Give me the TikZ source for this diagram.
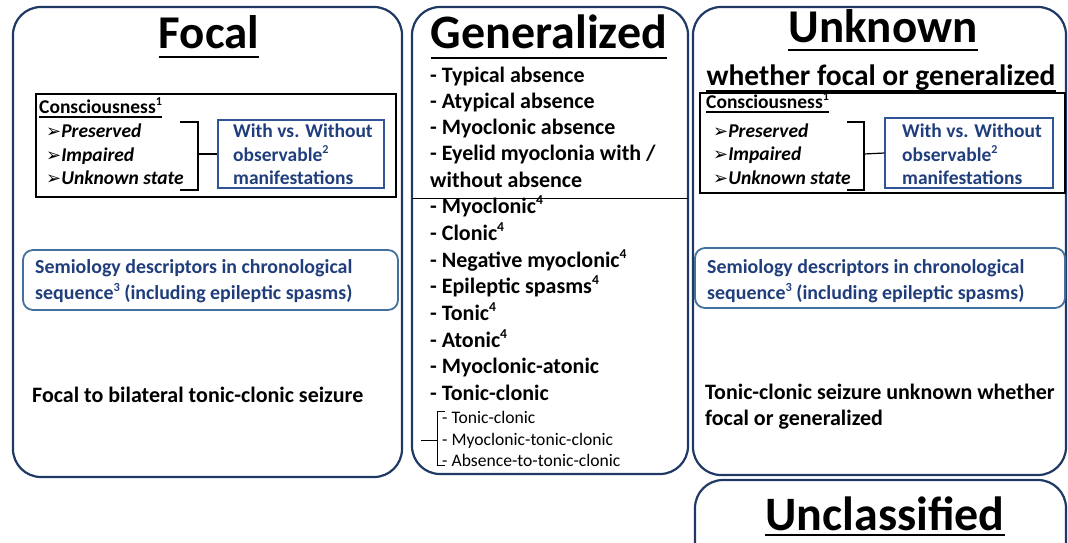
\documentclass[tikz,border=0pt]{standalone}
\usepackage{fontspec}
\setmainfont{Carlito}
\newfontfamily\symfont{DejaVu Sans}
\definecolor{navy}{HTML}{1F3864}
\definecolor{bluetext}{HTML}{203E7C}
\definecolor{blueline}{HTML}{2F5597}
\definecolor{semiline}{HTML}{41719C}
\newcommand{\arr}{{\symfont\fontsize{18}{20}\selectfont ➢}}
\newcommand{\sups}[1]{\raisebox{0.38em}{\fontsize{0.62em}{0.7em}\selectfont #1}}
\tikzset{
  panel/.style={draw=navy, line width=2.2pt, rounded corners=28pt},
  consbox/.style={draw=black, line width=1.2pt},
  bluebox/.style={draw=blueline, line width=1.2pt, inner sep=0pt},
  semibox/.style={draw=semiline, line width=1.8pt, rounded corners=10pt},
  title/.style={inner sep=0pt, anchor=base, font=\bfseries\fontsize{48}{52}\selectfont},
  subtitle/.style={inner sep=0pt, anchor=base, font=\bfseries\fontsize{29.5}{32}\selectfont},
  txt/.style={inner sep=0pt, anchor=base west, font=\bfseries\fontsize{19.5}{23}\selectfont},
  itxt/.style={txt, font=\bfseries\itshape\fontsize{19.5}{23}\selectfont},
  bitem/.style={txt, text=bluetext},
  semitxt/.style={inner sep=0pt, anchor=base west, text=bluetext, font=\bfseries\fontsize{19.9}{22}\selectfont},
  item/.style={inner sep=0pt, anchor=base west, font=\bfseries\fontsize{22}{24}\selectfont},
  bigtxt/.style={item},
  subitem/.style={inner sep=0pt, anchor=base west, font=\fontsize{17.6}{19}\selectfont},
  uline/.style={line width=2pt},
  thin/.style={line width=1.2pt}
}
\begin{document}
\begin{tikzpicture}[x=1pt,y=-1pt]
\useasboundingbox (0,0) rectangle (1068,542);
\begin{scope}
\clip (0,0) rectangle (1068,542);

% ---------- panels ----------
\draw[panel] (13,7) rectangle (402,477);
\draw[panel] (412,7) rectangle (688,474);
\draw[panel] (693,7) rectangle (1066,475);
\draw[panel] (695,480) rectangle (1066,580);

% ---------- Focal ----------
\node[title, font=\bfseries\fontsize{47}{52}\selectfont] (ftitle) at (209,48) {Focal};
\draw[uline] ([yshift=-9pt]ftitle.base west) -- ([yshift=-9pt]ftitle.base east);

\draw[consbox] (36,94) rectangle (396,197);
\node[txt] (fcons) at (39,113) {Consciousness\sups{1}};
\draw[line width=1.2pt] ([yshift=-4pt]fcons.base west) -- ([yshift=-4pt]fcons.base east);
\node[itxt] (fpres) at (46,137) {\arr Preserved};
\node[itxt] (fimp) at (46,161) {\arr Impaired};
\node[itxt] (funk) at (46,184) {\arr Unknown state};
\node[bluebox, minimum width=166pt, minimum height=68pt] (fwith) at (301,154) {};
\node[bitem] (fw1) at (233,137) {With vs. Without};
\node[bitem] (fw2) at (233,161) {observable\sups{2}};
\node[bitem] (fw3) at (233,184) {manifestations};
\coordinate (fbt) at (180,122);
\coordinate (fbb) at (180,190);
\coordinate (fbm) at (198,154);
\draw[thin] (fbt) -- (198,122) -- (198,190) -- (fbb);
\draw[thin] (fbm) -- (fwith.west);

\draw[semibox] (23,250) rectangle (398,310);
\node[semitxt] (fs1) at (35,273) {Semiology descriptors in chronological};
\node[semitxt] (fs2) at (35,299) {sequence\sups{3} (including epileptic spasms)};

\node[bigtxt] (fbtc) at (32,402) {Focal to bilateral tonic-clonic seizure};

% ---------- Generalized ----------
\node[title] (gtitle) at (549,48) {Generalized};
\draw[uline] ([yshift=-10pt]gtitle.base west) -- ([yshift=-10pt]gtitle.base east);

\node[item] (g1) at (430,82) {- Typical absence};
\node[item] (g2) at (430,108) {- Atypical absence};
\node[item] (g3) at (430,134) {- Myoclonic absence};
\node[item] (g4) at (430,160) {- Eyelid myoclonia with /};
\node[item] (g5) at (430,187) {without absence};
\draw[line width=1pt] (412,198) -- (688,198);
\node[item] (g6) at (430,213) {- Myoclonic\sups{4}};
\node[item] (g7) at (430,240) {- Clonic\sups{4}};
\node[item] (g8) at (430,267) {- Negative myoclonic\sups{4}};
\node[item] (g9) at (430,293) {- Epileptic spasms\sups{4}};
\node[item] (g10) at (430,320) {- Tonic\sups{4}};
\node[item] (g11) at (430,347) {- Atonic\sups{4}};
\node[item] (g12) at (430,373) {- Myoclonic-atonic};
\node[item] (g13) at (430,400) {- Tonic-clonic};
\node[subitem] (s1) at (442,423) {- Tonic-clonic};
\node[subitem] (s2) at (442,445) {- Myoclonic-tonic-clonic};
\node[subitem] (s3) at (442,466) {- Absence-to-tonic-clonic};
\coordinate (gbt) at (445,411);
\coordinate (gbb) at (445,465);
\coordinate (gbs) at (421,440);
\draw[line width=1pt] (gbt) -- (437,411) -- (437,465) -- (gbb);
\draw[line width=1pt] (gbs) -- (437,440);

% ---------- Unknown ----------
\node[title, font=\bfseries\fontsize{47}{52}\selectfont] (utitle) at (883,42) {Unknown};
\draw[uline] ([yshift=-8pt]utitle.base west) -- ([yshift=-8pt]utitle.base east);
\node[subtitle] (usub) at (881,85) {whether focal or generalized};
\draw[line width=1.6pt] ([yshift=-6pt]usub.base west) -- ([yshift=-6pt]usub.base east);

\draw[consbox] (700,93) rectangle (1065,193);
\node[txt] (ucons) at (706,108) {Consciousness\sups{1}};
\draw[line width=1.2pt] ([yshift=-4pt]ucons.base west) -- ([yshift=-4pt]ucons.base east);
\node[itxt] (upres) at (713,137) {\arr Preserved};
\node[itxt] (uimp) at (713,160) {\arr Impaired};
\node[itxt] (uunk) at (713,184) {\arr Unknown state};
\node[bluebox, minimum width=168pt, minimum height=70pt] (uwith) at (969,153) {};
\node[bitem] (uw1) at (902,137) {With vs. Without};
\node[bitem] (uw2) at (902,161) {observable\sups{2}};
\node[bitem] (uw3) at (902,184) {manifestations};
\coordinate (ubt) at (847,122);
\coordinate (ubb) at (847,190);
\coordinate (ubm) at (864,154);
\draw[thin] (ubt) -- (864,122) -- (864,190) -- (ubb);
\draw[thin] (ubm) -- (uwith.west);

\draw[semibox] (695,248) rectangle (1065,308);
\node[semitxt] (us1) at (707,273) {Semiology descriptors in chronological};
\node[semitxt] (us2) at (707,299) {sequence\sups{3} (including epileptic spasms)};

\node[bigtxt] (utc1) at (705,399) {Tonic-clonic seizure unknown whether};
\node[bigtxt] (utc2) at (705,425) {focal or generalized};

% ---------- Unclassified ----------
\node[title] (ctitle) at (885,530) {Unclassified};
\draw[uline] ([yshift=-5pt]ctitle.base west) -- ([yshift=-5pt]ctitle.base east);
\end{scope}
\end{tikzpicture}
\end{document}
